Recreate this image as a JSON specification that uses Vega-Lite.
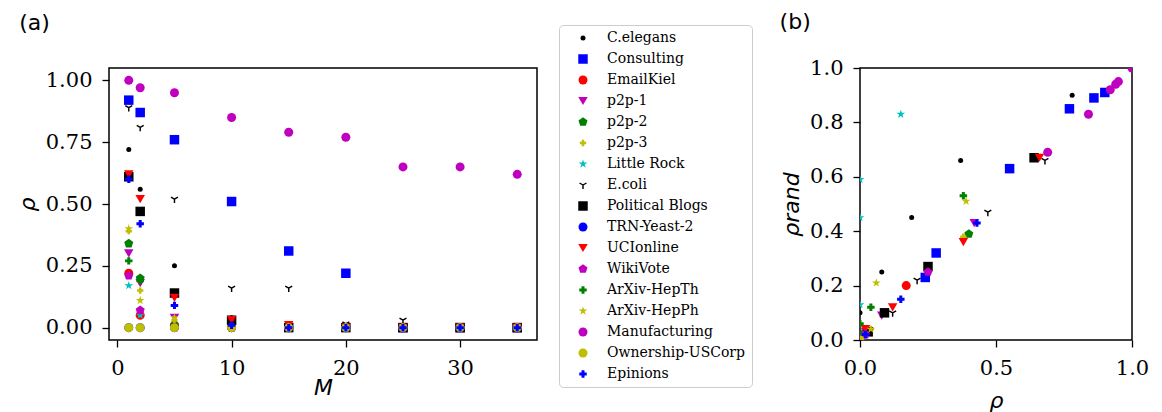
{
  "$schema": "https://vega.github.io/schema/vega-lite/v6.json",
  "background": "white",
  "padding": {"left": 15, "top": 10, "right": 5, "bottom": 2},
  "spacing": 323,
  "bounds": "flush",
  "resolve": {"scale": {"color": "shared", "shape": "shared", "size": "shared"}},
  "config": {
    "font": "DejaVu Serif",
    "view": {"stroke": "black", "strokeWidth": 1.5},
    "axis": {
      "domain": false,
      "grid": false,
      "tickColor": "black",
      "tickSize": 7,
      "tickWidth": 1.3,
      "labelFont": "DejaVu Serif",
      "labelFontSize": 21,
      "labelColor": "black",
      "labelPadding": 10,
      "labelFlush": false,
      "titleFont": "DejaVu Sans",
      "titleFontStyle": "italic",
      "titleFontWeight": "normal",
      "titleFontSize": 22,
      "titleColor": "black",
      "titlePadding": 6
    },
    "title": {"font": "DejaVu Sans", "fontSize": 22, "fontWeight": "normal", "anchor": "start", "frame": "bounds", "color": "black", "offset": 0},
    "legend": {
      "title": null,
      "orient": "none",
      "legendX": 450,
      "legendY": -43,
      "padding": 6,
      "symbolOffset": 11,
      "labelOffset": 17,
      "rowPadding": 7,
      "labelFont": "DejaVu Serif",
      "labelFontSize": 14,
      "labelColor": "black",
      "strokeColor": "#cccccc",
      "cornerRadius": 4,
      "fillColor": "white",
      "symbolStrokeWidth": 0
    }
  },
  "datasets": {
    "curves": [
      {"net": "C.elegans", "M": 1, "rho": 0.72}, {"net": "C.elegans", "M": 2, "rho": 0.56}, {"net": "C.elegans", "M": 5, "rho": 0.25}, {"net": "C.elegans", "M": 10, "rho": 0.04}, {"net": "C.elegans", "M": 15, "rho": 0}, {"net": "C.elegans", "M": 20, "rho": 0}, {"net": "C.elegans", "M": 25, "rho": 0}, {"net": "C.elegans", "M": 30, "rho": 0}, {"net": "C.elegans", "M": 35, "rho": 0},
      {"net": "Consulting", "M": 1, "rho": 0.92}, {"net": "Consulting", "M": 2, "rho": 0.87}, {"net": "Consulting", "M": 5, "rho": 0.76}, {"net": "Consulting", "M": 10, "rho": 0.51}, {"net": "Consulting", "M": 15, "rho": 0.31}, {"net": "Consulting", "M": 20, "rho": 0.22}, {"net": "Consulting", "M": 25, "rho": 0}, {"net": "Consulting", "M": 30, "rho": 0}, {"net": "Consulting", "M": 35, "rho": 0},
      {"net": "EmailKiel", "M": 1, "rho": 0.22}, {"net": "EmailKiel", "M": 2, "rho": 0.05}, {"net": "EmailKiel", "M": 5, "rho": 0.01}, {"net": "EmailKiel", "M": 10, "rho": 0}, {"net": "EmailKiel", "M": 15, "rho": 0}, {"net": "EmailKiel", "M": 20, "rho": 0}, {"net": "EmailKiel", "M": 25, "rho": 0}, {"net": "EmailKiel", "M": 30, "rho": 0}, {"net": "EmailKiel", "M": 35, "rho": 0},
      {"net": "p2p-1", "M": 1, "rho": 0.30}, {"net": "p2p-1", "M": 2, "rho": 0.18}, {"net": "p2p-1", "M": 5, "rho": 0.04}, {"net": "p2p-1", "M": 10, "rho": 0}, {"net": "p2p-1", "M": 15, "rho": 0}, {"net": "p2p-1", "M": 20, "rho": 0}, {"net": "p2p-1", "M": 25, "rho": 0}, {"net": "p2p-1", "M": 30, "rho": 0}, {"net": "p2p-1", "M": 35, "rho": 0},
      {"net": "p2p-2", "M": 1, "rho": 0.34}, {"net": "p2p-2", "M": 2, "rho": 0.20}, {"net": "p2p-2", "M": 5, "rho": 0.01}, {"net": "p2p-2", "M": 10, "rho": 0}, {"net": "p2p-2", "M": 15, "rho": 0}, {"net": "p2p-2", "M": 20, "rho": 0}, {"net": "p2p-2", "M": 25, "rho": 0}, {"net": "p2p-2", "M": 30, "rho": 0}, {"net": "p2p-2", "M": 35, "rho": 0},
      {"net": "p2p-3", "M": 1, "rho": 0.39}, {"net": "p2p-3", "M": 2, "rho": 0.15}, {"net": "p2p-3", "M": 5, "rho": 0.03}, {"net": "p2p-3", "M": 10, "rho": 0}, {"net": "p2p-3", "M": 15, "rho": 0}, {"net": "p2p-3", "M": 20, "rho": 0}, {"net": "p2p-3", "M": 25, "rho": 0}, {"net": "p2p-3", "M": 30, "rho": 0}, {"net": "p2p-3", "M": 35, "rho": 0},
      {"net": "Little Rock", "M": 1, "rho": 0.17}, {"net": "Little Rock", "M": 2, "rho": 0.05}, {"net": "Little Rock", "M": 5, "rho": 0}, {"net": "Little Rock", "M": 10, "rho": 0}, {"net": "Little Rock", "M": 15, "rho": 0}, {"net": "Little Rock", "M": 20, "rho": 0}, {"net": "Little Rock", "M": 25, "rho": 0}, {"net": "Little Rock", "M": 30, "rho": 0}, {"net": "Little Rock", "M": 35, "rho": 0},
      {"net": "E.coli", "M": 1, "rho": 0.89}, {"net": "E.coli", "M": 2, "rho": 0.81}, {"net": "E.coli", "M": 5, "rho": 0.52}, {"net": "E.coli", "M": 10, "rho": 0.16}, {"net": "E.coli", "M": 15, "rho": 0.16}, {"net": "E.coli", "M": 20, "rho": 0.015}, {"net": "E.coli", "M": 25, "rho": 0.03}, {"net": "E.coli", "M": 30, "rho": 0}, {"net": "E.coli", "M": 35, "rho": 0},
      {"net": "Political Blogs", "M": 1, "rho": 0.61}, {"net": "Political Blogs", "M": 2, "rho": 0.47}, {"net": "Political Blogs", "M": 5, "rho": 0.14}, {"net": "Political Blogs", "M": 10, "rho": 0.03}, {"net": "Political Blogs", "M": 15, "rho": 0}, {"net": "Political Blogs", "M": 20, "rho": 0}, {"net": "Political Blogs", "M": 25, "rho": 0}, {"net": "Political Blogs", "M": 30, "rho": 0}, {"net": "Political Blogs", "M": 35, "rho": 0},
      {"net": "TRN-Yeast-2", "M": 1, "rho": 0}, {"net": "TRN-Yeast-2", "M": 2, "rho": 0}, {"net": "TRN-Yeast-2", "M": 5, "rho": 0}, {"net": "TRN-Yeast-2", "M": 10, "rho": 0}, {"net": "TRN-Yeast-2", "M": 15, "rho": 0}, {"net": "TRN-Yeast-2", "M": 20, "rho": 0}, {"net": "TRN-Yeast-2", "M": 25, "rho": 0}, {"net": "TRN-Yeast-2", "M": 30, "rho": 0}, {"net": "TRN-Yeast-2", "M": 35, "rho": 0},
      {"net": "UCIonline", "M": 1, "rho": 0.62}, {"net": "UCIonline", "M": 2, "rho": 0.52}, {"net": "UCIonline", "M": 5, "rho": 0.12}, {"net": "UCIonline", "M": 10, "rho": 0.03}, {"net": "UCIonline", "M": 15, "rho": 0.01}, {"net": "UCIonline", "M": 20, "rho": 0}, {"net": "UCIonline", "M": 25, "rho": 0}, {"net": "UCIonline", "M": 30, "rho": 0}, {"net": "UCIonline", "M": 35, "rho": 0},
      {"net": "WikiVote", "M": 1, "rho": 0.21}, {"net": "WikiVote", "M": 2, "rho": 0.07}, {"net": "WikiVote", "M": 5, "rho": 0}, {"net": "WikiVote", "M": 10, "rho": 0}, {"net": "WikiVote", "M": 15, "rho": 0}, {"net": "WikiVote", "M": 20, "rho": 0}, {"net": "WikiVote", "M": 25, "rho": 0}, {"net": "WikiVote", "M": 30, "rho": 0}, {"net": "WikiVote", "M": 35, "rho": 0},
      {"net": "ArXiv-HepTh", "M": 1, "rho": 0.27}, {"net": "ArXiv-HepTh", "M": 2, "rho": 0.19}, {"net": "ArXiv-HepTh", "M": 5, "rho": 0}, {"net": "ArXiv-HepTh", "M": 10, "rho": 0}, {"net": "ArXiv-HepTh", "M": 15, "rho": 0}, {"net": "ArXiv-HepTh", "M": 20, "rho": 0}, {"net": "ArXiv-HepTh", "M": 25, "rho": 0}, {"net": "ArXiv-HepTh", "M": 30, "rho": 0}, {"net": "ArXiv-HepTh", "M": 35, "rho": 0},
      {"net": "ArXiv-HepPh", "M": 1, "rho": 0.40}, {"net": "ArXiv-HepPh", "M": 2, "rho": 0.11}, {"net": "ArXiv-HepPh", "M": 5, "rho": 0.04}, {"net": "ArXiv-HepPh", "M": 10, "rho": 0}, {"net": "ArXiv-HepPh", "M": 15, "rho": 0}, {"net": "ArXiv-HepPh", "M": 20, "rho": 0}, {"net": "ArXiv-HepPh", "M": 25, "rho": 0}, {"net": "ArXiv-HepPh", "M": 30, "rho": 0}, {"net": "ArXiv-HepPh", "M": 35, "rho": 0},
      {"net": "Manufacturing", "M": 1, "rho": 1.00}, {"net": "Manufacturing", "M": 2, "rho": 0.97}, {"net": "Manufacturing", "M": 5, "rho": 0.95}, {"net": "Manufacturing", "M": 10, "rho": 0.85}, {"net": "Manufacturing", "M": 15, "rho": 0.79}, {"net": "Manufacturing", "M": 20, "rho": 0.77}, {"net": "Manufacturing", "M": 25, "rho": 0.65}, {"net": "Manufacturing", "M": 30, "rho": 0.65}, {"net": "Manufacturing", "M": 35, "rho": 0.62},
      {"net": "Ownership-USCorp", "M": 1, "rho": 0}, {"net": "Ownership-USCorp", "M": 2, "rho": 0}, {"net": "Ownership-USCorp", "M": 5, "rho": 0}, {"net": "Ownership-USCorp", "M": 10, "rho": 0}, {"net": "Ownership-USCorp", "M": 15, "rho": 0}, {"net": "Ownership-USCorp", "M": 20, "rho": 0}, {"net": "Ownership-USCorp", "M": 25, "rho": 0}, {"net": "Ownership-USCorp", "M": 30, "rho": 0}, {"net": "Ownership-USCorp", "M": 35, "rho": 0},
      {"net": "Epinions", "M": 1, "rho": 0.60}, {"net": "Epinions", "M": 2, "rho": 0.42}, {"net": "Epinions", "M": 5, "rho": 0.09}, {"net": "Epinions", "M": 10, "rho": 0.01}, {"net": "Epinions", "M": 15, "rho": 0}, {"net": "Epinions", "M": 20, "rho": 0}, {"net": "Epinions", "M": 25, "rho": 0}, {"net": "Epinions", "M": 30, "rho": 0}, {"net": "Epinions", "M": 35, "rho": 0}
    ],
    "pairs": [
      {"net": "C.elegans", "rho": 0.78, "rand": 0.90}, {"net": "C.elegans", "rho": 0.37, "rand": 0.66}, {"net": "C.elegans", "rho": 0.19, "rand": 0.45}, {"net": "C.elegans", "rho": 0.08, "rand": 0.25}, {"net": "C.elegans", "rho": 0.0, "rand": 0.10},
      {"net": "Consulting", "rho": 0.90, "rand": 0.91}, {"net": "Consulting", "rho": 0.86, "rand": 0.89}, {"net": "Consulting", "rho": 0.77, "rand": 0.85}, {"net": "Consulting", "rho": 0.55, "rand": 0.63}, {"net": "Consulting", "rho": 0.28, "rand": 0.32}, {"net": "Consulting", "rho": 0.24, "rand": 0.23},
      {"net": "EmailKiel", "rho": 0.17, "rand": 0.20}, {"net": "EmailKiel", "rho": 0.02, "rand": 0.03},
      {"net": "p2p-1", "rho": 0.42, "rand": 0.43}, {"net": "p2p-1", "rho": 0.08, "rand": 0.09}, {"net": "p2p-1", "rho": 0.02, "rand": 0.03},
      {"net": "p2p-2", "rho": 0.40, "rand": 0.39}, {"net": "p2p-2", "rho": 0.01, "rand": 0.02},
      {"net": "p2p-3", "rho": 0.38, "rand": 0.38}, {"net": "p2p-3", "rho": 0.04, "rand": 0.04},
      {"net": "Little Rock", "rho": 0.15, "rand": 0.83}, {"net": "Little Rock", "rho": 0.0, "rand": 0.59}, {"net": "Little Rock", "rho": 0.0, "rand": 0.45}, {"net": "Little Rock", "rho": 0.0, "rand": 0.13},
      {"net": "E.coli", "rho": 0.92, "rand": 0.92}, {"net": "E.coli", "rho": 0.68, "rand": 0.66}, {"net": "E.coli", "rho": 0.47, "rand": 0.47}, {"net": "E.coli", "rho": 0.21, "rand": 0.22}, {"net": "E.coli", "rho": 0.12, "rand": 0.10},
      {"net": "Political Blogs", "rho": 0.64, "rand": 0.67}, {"net": "Political Blogs", "rho": 0.25, "rand": 0.27}, {"net": "Political Blogs", "rho": 0.09, "rand": 0.10}, {"net": "Political Blogs", "rho": 0.03, "rand": 0.03},
      {"net": "TRN-Yeast-2", "rho": 0.0, "rand": 0.0},
      {"net": "UCIonline", "rho": 0.66, "rand": 0.67}, {"net": "UCIonline", "rho": 0.38, "rand": 0.36}, {"net": "UCIonline", "rho": 0.12, "rand": 0.12}, {"net": "UCIonline", "rho": 0.02, "rand": 0.04},
      {"net": "WikiVote", "rho": 0.25, "rand": 0.25}, {"net": "WikiVote", "rho": 0.02, "rand": 0.02},
      {"net": "ArXiv-HepTh", "rho": 0.38, "rand": 0.53}, {"net": "ArXiv-HepTh", "rho": 0.04, "rand": 0.12}, {"net": "ArXiv-HepTh", "rho": 0.0, "rand": 0.06},
      {"net": "ArXiv-HepPh", "rho": 0.39, "rand": 0.51}, {"net": "ArXiv-HepPh", "rho": 0.06, "rand": 0.21}, {"net": "ArXiv-HepPh", "rho": 0.04, "rand": 0.04},
      {"net": "Manufacturing", "rho": 0.69, "rand": 0.69}, {"net": "Manufacturing", "rho": 0.84, "rand": 0.83}, {"net": "Manufacturing", "rho": 0.92, "rand": 0.92}, {"net": "Manufacturing", "rho": 0.94, "rand": 0.94}, {"net": "Manufacturing", "rho": 0.95, "rand": 0.95}, {"net": "Manufacturing", "rho": 1.0, "rand": 1.0},
      {"net": "Ownership-USCorp", "rho": 0.0, "rand": 0.0},
      {"net": "Epinions", "rho": 0.43, "rand": 0.43}, {"net": "Epinions", "rho": 0.15, "rand": 0.15}, {"net": "Epinions", "rho": 0.02, "rand": 0.02}
    ]
  },
  "hconcat": [
    {
      "width": 428,
      "height": 272,
      "title": {"text": "(a)", "dx": 3, "dy": -29},
      "data": {"name": "curves"},
      "mark": {"type": "point", "filled": true, "opacity": 1, "strokeWidth": 0, "clip": true},
      "encoding": {
        "x": {"field": "M", "type": "quantitative", "scale": {"domain": [-0.73, 36.73], "nice": false, "zero": false}, "axis": {"values": [0, 10, 20, 30], "title": "M", "titlePadding": -1}},
        "y": {"field": "rho", "type": "quantitative", "scale": {"domain": [-0.05, 1.05], "nice": false, "zero": false}, "axis": {"values": [0, 0.25, 0.5, 0.75, 1], "format": ".2f", "title": "ρ"}},
        "color": {"field": "net", "type": "nominal", "scale": {"domain": ["C.elegans", "Consulting", "EmailKiel", "p2p-1", "p2p-2", "p2p-3", "Little Rock", "E.coli", "Political Blogs", "TRN-Yeast-2", "UCIonline", "WikiVote", "ArXiv-HepTh", "ArXiv-HepPh", "Manufacturing", "Ownership-USCorp", "Epinions"], "range": ["#000000", "#0000ff", "#ff0000", "#bf00bf", "#008000", "#bfbf00", "#00bfbf", "#000000", "#000000", "#0000ff", "#ff0000", "#bf00bf", "#008000", "#bfbf00", "#bf00bf", "#bfbf00", "#0000ff"]}},
        "shape": {"field": "net", "type": "nominal", "scale": {"domain": ["C.elegans", "Consulting", "EmailKiel", "p2p-1", "p2p-2", "p2p-3", "Little Rock", "E.coli", "Political Blogs", "TRN-Yeast-2", "UCIonline", "WikiVote", "ArXiv-HepTh", "ArXiv-HepPh", "Manufacturing", "Ownership-USCorp", "Epinions"], "range": ["circle", "square", "circle", "triangle-down", "M0,-1L0.951,-0.309L0.588,0.809L-0.588,0.809L-0.951,-0.309Z", "cross", "M0,-1L0.225,-0.309L0.951,-0.309L0.363,0.118L0.588,0.809L0,0.382L-0.588,0.809L-0.363,0.118L-0.951,-0.309L-0.225,-0.309Z", "M-0.18,0L0.18,0L0.18,1L-0.18,1ZM-0.09,0.156L-0.956,-0.344L-0.776,-0.656L0.09,-0.156ZM-0.09,-0.156L0.776,-0.656L0.956,-0.344L0.09,0.156Z", "square", "circle", "triangle-down", "M0,-1L0.951,-0.309L0.588,0.809L-0.588,0.809L-0.951,-0.309Z", "cross", "M0,-1L0.225,-0.309L0.951,-0.309L0.363,0.118L0.588,0.809L0,0.382L-0.588,0.809L-0.363,0.118L-0.951,-0.309L-0.225,-0.309Z", "circle", "circle", "cross"]}},
        "size": {"field": "net", "type": "nominal", "scale": {"type": "ordinal", "domain": ["C.elegans", "Consulting", "EmailKiel", "p2p-1", "p2p-2", "p2p-3", "Little Rock", "E.coli", "Political Blogs", "TRN-Yeast-2", "UCIonline", "WikiVote", "ArXiv-HepTh", "ArXiv-HepPh", "Manufacturing", "Ownership-USCorp", "Epinions"], "range": [25, 90, 81, 90, 90, 40, 85, 64, 90, 81, 90, 90, 56, 85, 81, 81, 56]}}
      }
    },
    {
      "width": 272,
      "height": 272,
      "title": {"text": "(b)", "dx": -1, "dy": -19},
      "data": {"name": "pairs"},
      "mark": {"type": "point", "filled": true, "opacity": 1, "strokeWidth": 0, "clip": true},
      "encoding": {
        "x": {"field": "rho", "type": "quantitative", "scale": {"domain": [0, 1], "nice": false}, "axis": {"values": [0, 0.5, 1], "format": ".1f", "title": "ρ", "titlePadding": 12}},
        "y": {"field": "rand", "type": "quantitative", "scale": {"domain": [0, 1], "nice": false}, "axis": {"values": [0, 0.2, 0.4, 0.6, 0.8, 1], "format": ".1f", "title": "ρrand"}},
        "color": {"field": "net", "type": "nominal", "scale": {"domain": ["C.elegans", "Consulting", "EmailKiel", "p2p-1", "p2p-2", "p2p-3", "Little Rock", "E.coli", "Political Blogs", "TRN-Yeast-2", "UCIonline", "WikiVote", "ArXiv-HepTh", "ArXiv-HepPh", "Manufacturing", "Ownership-USCorp", "Epinions"], "range": ["#000000", "#0000ff", "#ff0000", "#bf00bf", "#008000", "#bfbf00", "#00bfbf", "#000000", "#000000", "#0000ff", "#ff0000", "#bf00bf", "#008000", "#bfbf00", "#bf00bf", "#bfbf00", "#0000ff"]}},
        "shape": {"field": "net", "type": "nominal", "scale": {"domain": ["C.elegans", "Consulting", "EmailKiel", "p2p-1", "p2p-2", "p2p-3", "Little Rock", "E.coli", "Political Blogs", "TRN-Yeast-2", "UCIonline", "WikiVote", "ArXiv-HepTh", "ArXiv-HepPh", "Manufacturing", "Ownership-USCorp", "Epinions"], "range": ["circle", "square", "circle", "triangle-down", "M0,-1L0.951,-0.309L0.588,0.809L-0.588,0.809L-0.951,-0.309Z", "cross", "M0,-1L0.225,-0.309L0.951,-0.309L0.363,0.118L0.588,0.809L0,0.382L-0.588,0.809L-0.363,0.118L-0.951,-0.309L-0.225,-0.309Z", "M-0.18,0L0.18,0L0.18,1L-0.18,1ZM-0.09,0.156L-0.956,-0.344L-0.776,-0.656L0.09,-0.156ZM-0.09,-0.156L0.776,-0.656L0.956,-0.344L0.09,0.156Z", "square", "circle", "triangle-down", "M0,-1L0.951,-0.309L0.588,0.809L-0.588,0.809L-0.951,-0.309Z", "cross", "M0,-1L0.225,-0.309L0.951,-0.309L0.363,0.118L0.588,0.809L0,0.382L-0.588,0.809L-0.363,0.118L-0.951,-0.309L-0.225,-0.309Z", "circle", "circle", "cross"]}},
        "size": {"field": "net", "type": "nominal", "scale": {"type": "ordinal", "domain": ["C.elegans", "Consulting", "EmailKiel", "p2p-1", "p2p-2", "p2p-3", "Little Rock", "E.coli", "Political Blogs", "TRN-Yeast-2", "UCIonline", "WikiVote", "ArXiv-HepTh", "ArXiv-HepPh", "Manufacturing", "Ownership-USCorp", "Epinions"], "range": [25, 90, 81, 90, 90, 40, 85, 64, 90, 81, 90, 90, 56, 85, 81, 81, 56]}}
      }
    }
  ]
}
